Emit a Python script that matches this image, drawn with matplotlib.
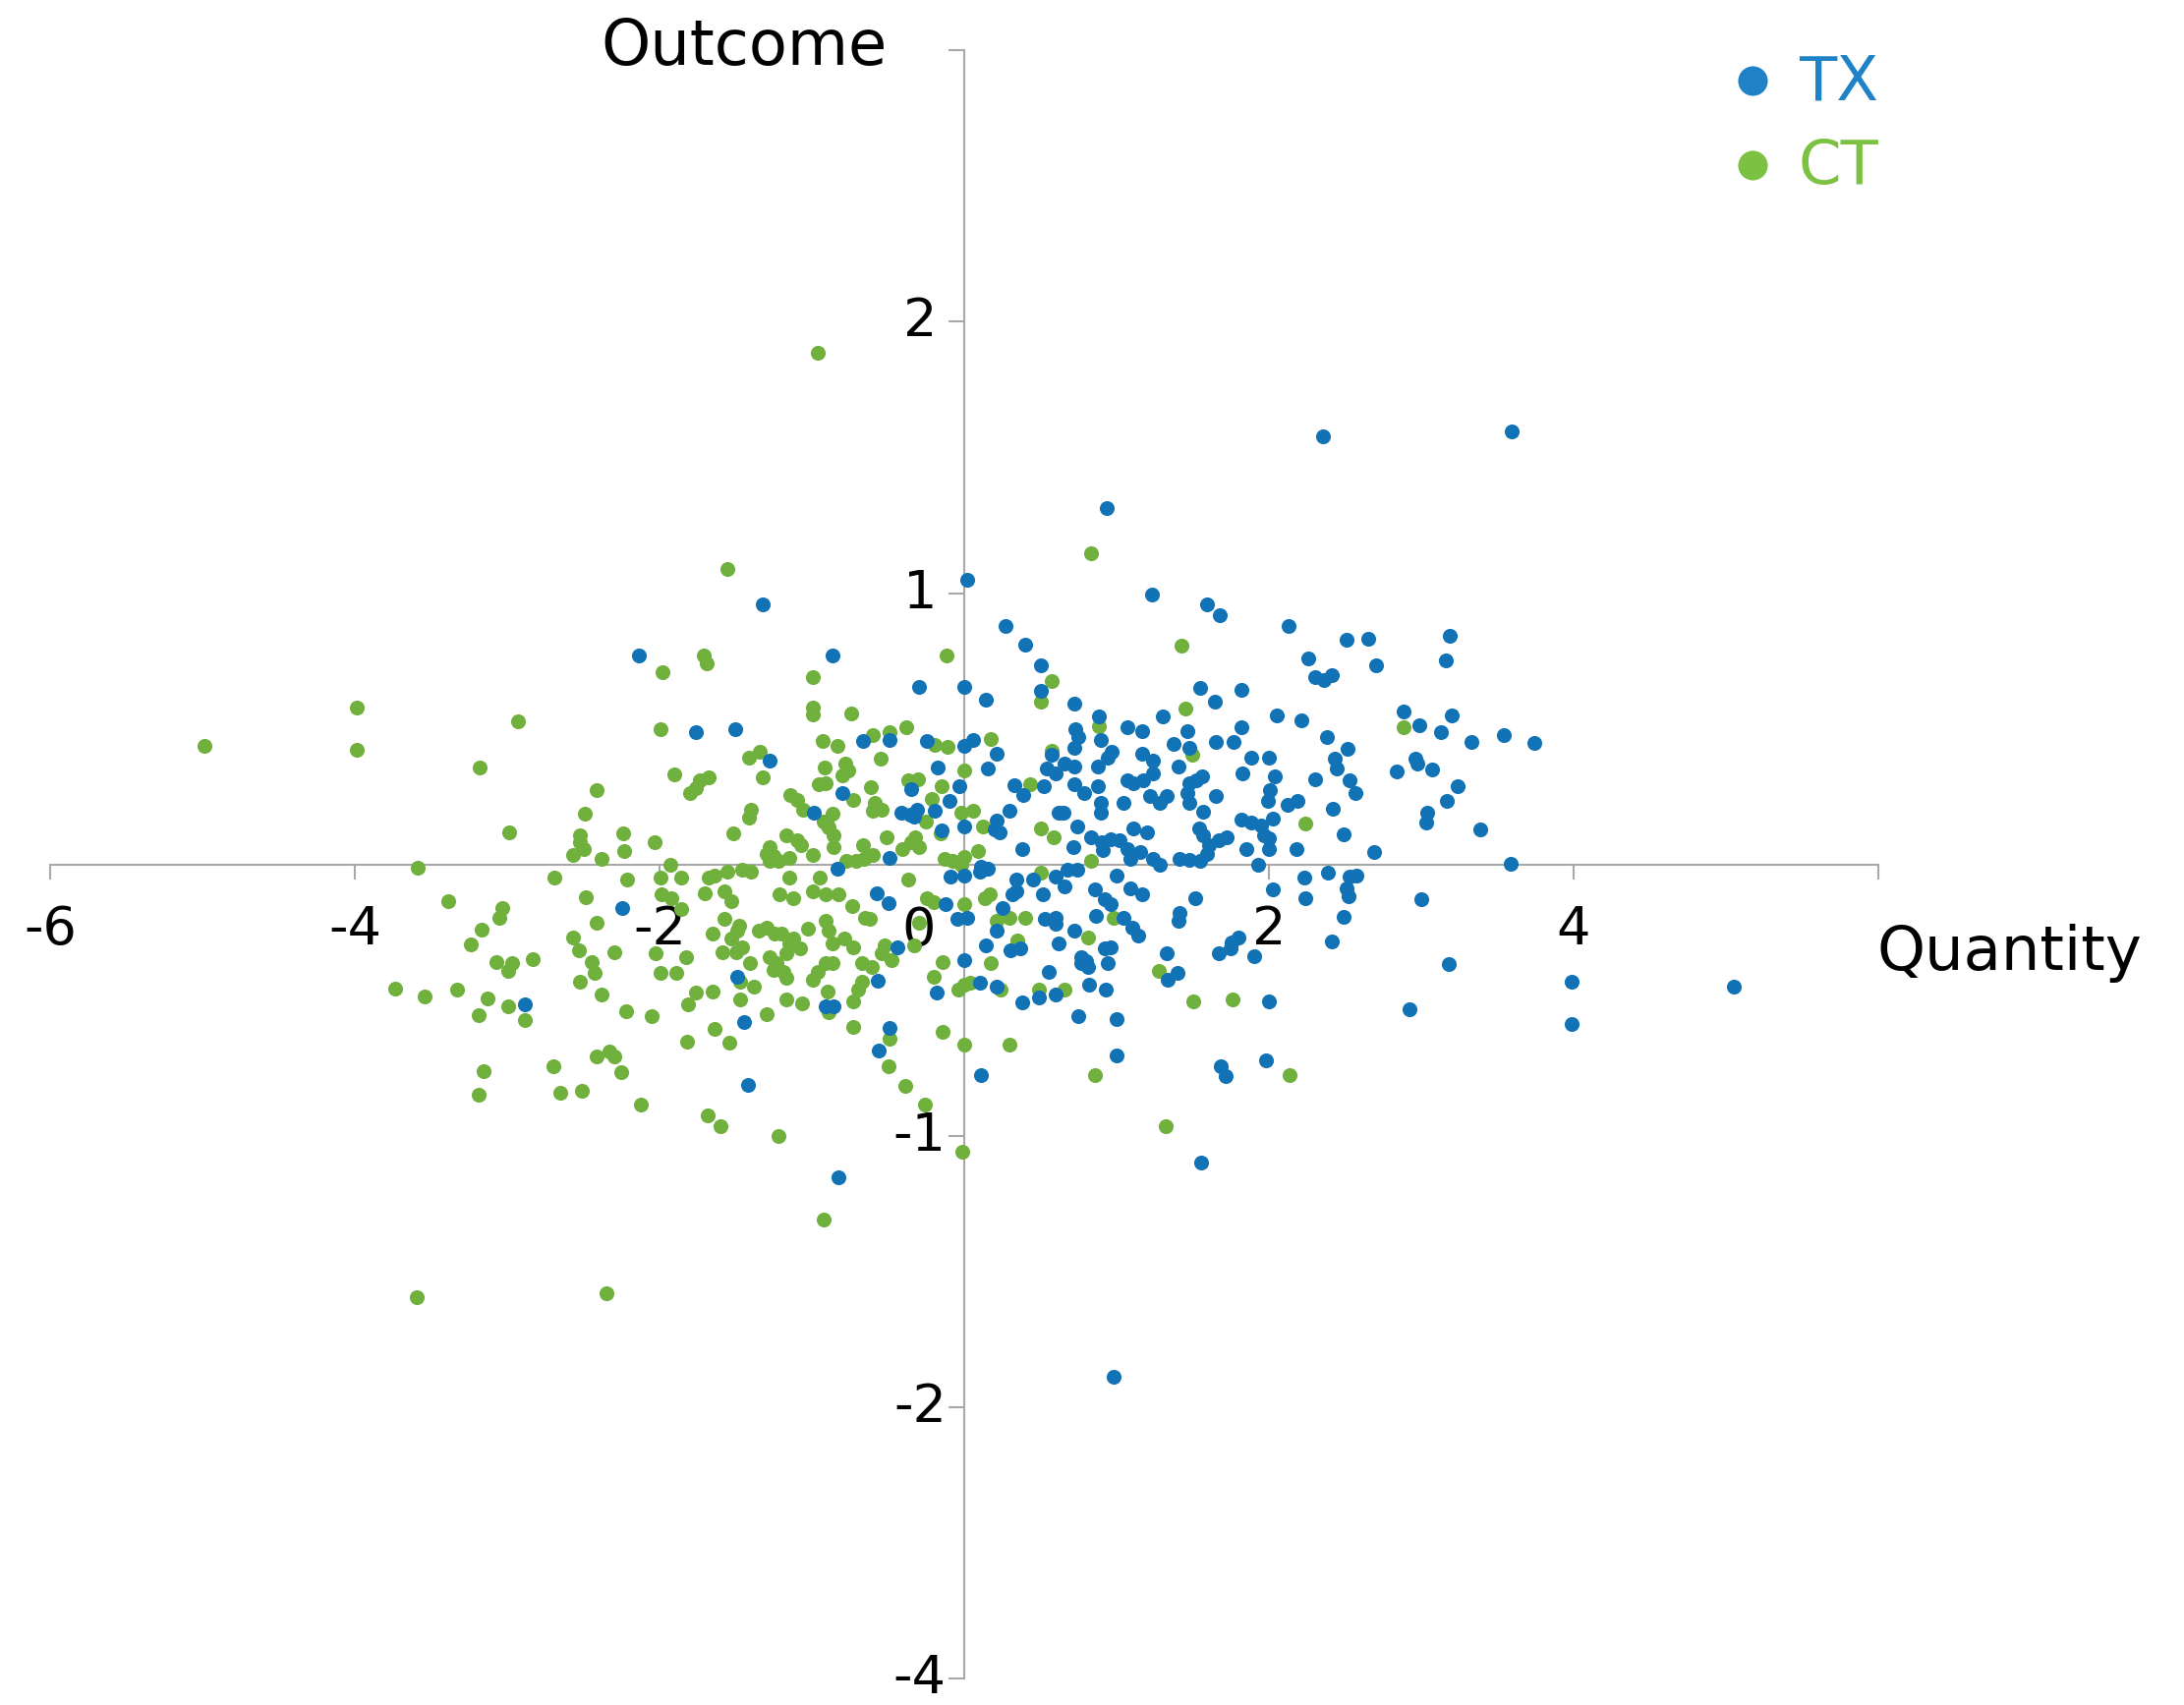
import numpy as np
import matplotlib
matplotlib.use("Agg")
import matplotlib.pyplot as plt

# values: (quantity, outcome)
tx = [
    (-1.32, 0.958), (0.02, 1.05), (-2.135, 0.77), (-0.866, 0.77), (0.27, 0.879), (0.40, 0.81),
    (0.50, 0.734), (0.50, 0.64), (0.725, 0.592), (-0.30, 0.656), (0.0, 0.656), (0.144, 0.607),
    (-1.76, 0.489), (-1.505, 0.499), (-0.663, 0.456), (-0.49, 0.457), (-0.243, 0.456), (0.0, 0.438),
    (0.06, 0.457), (0.21, 0.408), (-1.28, 0.384), (-0.172, 0.357), (0.155, 0.353), (0.574, 0.406),
    (0.54, 0.353), (0.60, 0.335), (0.66, 0.37), (0.72, 0.36), (0.72, 0.43), (0.75, 0.468),
    (0.73, 0.50), (0.886, 0.547), (0.897, 0.459), (0.875, 0.36), (0.94, 0.395), (0.97, 0.417),
    (-0.80, 0.263), (-0.35, 0.278), (-0.03, 0.29), (-0.985, 0.19), (-0.415, 0.19), (-0.355, 0.184),
    (-0.31, 0.20), (-0.33, 0.178), (-0.196, 0.197), (-0.097, 0.233), (0.0, 0.139), (-0.146, 0.127),
    (0.21, 0.16), (0.23, 0.118), (0.20, 0.13), (0.295, 0.199), (0.327, 0.293), (0.39, 0.257),
    (0.52, 0.29), (0.725, 0.297), (0.79, 0.263), (0.875, 0.287), (0.897, 0.227), (0.897, 0.19),
    (0.62, 0.19), (0.65, 0.19), (0.74, 0.14), (0.83, 0.10), (0.90, 0.082), (0.96, 0.094),
    (1.02, 0.091), (0.714, 0.064), (0.38, 0.055), (0.91, 0.052), (-0.49, 0.025), (-0.834, -0.017),
    (-0.09, -0.045), (0.0, -0.04), (0.11, -0.008), (0.155, -0.014), (0.10, -0.026), (0.60, -0.045),
    (0.68, -0.02), (0.74, -0.02), (1.0, -0.04), (0.34, -0.055), (0.45, -0.055),
    (1.23, 0.994), (1.596, 0.958), (1.68, 0.92), (2.127, 0.877), (2.51, 0.827), (2.654, 0.833),
    (3.19, 0.843), (3.16, 0.752), (2.70, 0.734), (2.256, 0.758), (2.30, 0.69), (2.36, 0.68),
    (2.413, 0.698), (1.548, 0.652), (1.82, 0.643), (1.643, 0.599), (1.30, 0.547), (2.05, 0.55),
    (2.215, 0.531), (2.886, 0.565), (2.99, 0.514), (3.20, 0.55), (3.13, 0.489), (3.33, 0.453),
    (3.54, 0.477), (3.74, 0.448), (1.07, 0.505), (1.17, 0.49), (1.467, 0.493), (1.377, 0.444),
    (1.477, 0.43), (1.65, 0.45), (1.768, 0.45), (1.817, 0.505), (2.38, 0.471), (2.516, 0.426),
    (2.435, 0.39), (2.445, 0.354), (1.886, 0.393), (2.0, 0.393), (1.826, 0.336), (2.037, 0.324),
    (2.005, 0.275), (1.994, 0.233), (2.84, 0.342), (2.974, 0.372), (2.96, 0.39), (3.07, 0.351),
    (2.30, 0.315), (2.53, 0.311), (2.57, 0.263), (3.24, 0.287), (3.17, 0.233), (3.04, 0.19),
    (3.03, 0.154), (3.39, 0.13), (3.59, 0.004), (2.69, 0.046), (2.42, 0.205), (2.49, 0.112),
    (2.12, 0.221), (2.19, 0.233), (2.18, 0.055), (2.026, 0.169), (1.82, 0.167), (1.886, 0.155),
    (1.95, 0.143), (1.97, 0.107), (2.0, 0.095), (1.854, 0.055), (2.0, 0.055), (1.93, 0.0),
    (1.65, 0.252), (1.57, 0.195), (1.48, 0.227), (1.467, 0.263), (1.52, 0.311), (1.563, 0.323),
    (1.477, 0.30), (1.54, 0.131), (1.57, 0.107), (1.607, 0.07), (1.67, 0.088), (1.725, 0.10),
    (1.413, 0.022), (1.477, 0.016), (1.55, 0.012), (1.596, 0.04), (1.408, 0.36), (1.166, 0.408),
    (1.24, 0.384), (1.24, 0.336), (1.176, 0.311), (1.11, 0.30), (1.07, 0.311), (1.22, 0.252),
    (1.284, 0.227), (1.327, 0.252), (1.047, 0.227), (1.11, 0.131), (1.198, 0.119), (1.07, 0.058),
    (1.155, 0.046), (1.24, 0.022), (1.284, -0.002), (1.09, 0.022), (2.23, -0.05), (2.387, -0.03),
    (2.53, -0.045), (2.575, -0.04),
    (-2.243, -0.16), (-2.884, -0.516),
    (-0.576, -0.105), (-0.494, -0.141), (-0.125, -0.147), (-0.045, -0.202), (0.02, -0.196),
    (0.25, -0.16), (0.34, -0.10), (0.316, -0.111), (0.21, -0.244), (0.516, -0.111), (0.66, -0.08),
    (0.855, -0.093), (0.92, -0.129), (0.96, -0.147), (0.53, -0.202), (0.60, -0.196), (0.60, -0.22),
    (0.62, -0.292), (0.725, -0.244), (0.864, -0.19), (0.77, -0.34), (0.80, -0.358), (0.92, -0.31),
    (0.96, -0.304), (0.94, -0.365), (0.81, -0.377), (0.77, -0.365), (0.553, -0.395), (0.144, -0.298),
    (0.305, -0.316), (0.37, -0.31), (0.0, -0.353), (-0.437, -0.304), (-0.565, -0.428), (0.10, -0.437),
    (0.21, -0.449), (-0.178, -0.471), (0.49, -0.492), (0.60, -0.48), (0.38, -0.51), (0.82, -0.443),
    (0.93, -0.461), (0.746, -0.558), (1.0, -0.57), (1.0, -0.703), (0.11, -0.775), (-0.49, -0.604),
    (-0.56, -0.687), (-0.824, -1.154), (-0.91, -0.522), (-0.856, -0.522), (-1.49, -0.413),
    (-1.447, -0.582), (-1.42, -0.814),
    (1.09, -0.087), (1.166, -0.111), (1.516, -0.123), (1.413, -0.178), (1.408, -0.208), (1.047, -0.196),
    (1.10, -0.232), (1.144, -0.262), (2.026, -0.09), (2.24, -0.126), (2.51, -0.087), (2.52, -0.117),
    (2.49, -0.193), (2.413, -0.283), (3.0, -0.129), (1.67, -0.328), (1.746, -0.31), (1.80, -0.268),
    (1.757, -0.286), (1.903, -0.338), (1.33, -0.328), (1.338, -0.425), (1.40, -0.401), (1.998, -0.504),
    (3.18, -0.367), (3.99, -0.431), (3.99, -0.588), (2.925, -0.534), (1.983, -0.721), (1.682, -0.745),
    (1.714, -0.781), (1.553, -1.098),
    (5.05, -0.45), (2.356, 1.579), (3.593, 1.595), (0.935, 1.313), (0.98, -1.887),
]

ct = [
    (-4.985, 0.438), (-3.99, 0.577), (-3.99, 0.422), (-2.93, 0.526), (-3.18, 0.357), (-2.41, 0.273),
    (-2.49, 0.187), (-2.99, 0.12), (-2.52, 0.109), (-2.52, 0.082), (-2.50, 0.055), (-2.57, 0.034),
    (-2.38, 0.022), (-2.24, 0.116), (-2.23, 0.05), (-3.59, -0.012), (-2.69, -0.048), (-2.21, -0.057),
    (-1.555, 1.09), (0.83, 1.145), (-1.71, 0.77), (-1.69, 0.74), (-1.98, 0.71), (-0.114, 0.77),
    (0.574, 0.677), (0.50, 0.60), (-0.996, 0.692), (-0.996, 0.577), (-0.996, 0.553), (-0.744, 0.556),
    (-1.995, 0.499), (-0.383, 0.505), (-0.49, 0.487), (-0.598, 0.475), (-0.196, 0.44), (-0.11, 0.432),
    (0.176, 0.462), (-0.93, 0.455), (-0.83, 0.438), (-1.41, 0.393), (-1.34, 0.414), (-0.55, 0.39),
    (-0.916, 0.357), (-0.78, 0.37), (-0.76, 0.345), (-0.80, 0.33), (0.0, 0.348), (0.574, 0.42),
    (0.886, 0.51), (-1.903, 0.332), (-1.737, 0.31), (-1.68, 0.32), (-1.80, 0.263), (-1.76, 0.28),
    (-1.32, 0.32), (-0.957, 0.296), (-0.91, 0.30), (-0.615, 0.285), (-0.37, 0.31), (-0.303, 0.314),
    (-0.146, 0.287), (-1.14, 0.257), (-1.10, 0.236), (-1.06, 0.203), (-0.727, 0.237), (-0.587, 0.227),
    (-0.545, 0.203), (-0.60, 0.197), (-0.866, 0.187), (-1.40, 0.203), (-1.41, 0.173), (-0.254, 0.157),
    (-0.21, 0.24), (-0.017, 0.19), (0.058, 0.197), (-0.157, 0.113), (0.12, 0.14), (0.435, 0.296),
    (0.50, 0.131), (0.585, 0.101), (0.83, 0.012), (-1.516, 0.116), (-2.03, 0.082), (-1.93, -0.003),
    (-1.275, 0.064), (-1.30, 0.04), (-1.25, 0.03), (-1.22, 0.012), (-1.275, 0.012), (-1.15, 0.025),
    (-1.17, 0.106), (-1.10, 0.088), (-1.07, 0.072), (-0.996, 0.034), (-0.888, 0.136), (-0.86, 0.106),
    (-0.86, 0.064), (-0.90, 0.142), (-0.92, 0.157), (-0.663, 0.07), (-0.60, 0.034), (-0.775, 0.015),
    (-0.71, 0.015), (-0.66, 0.02), (-0.51, 0.10), (-0.405, 0.058), (-0.35, 0.082), (-0.32, 0.10),
    (-0.30, 0.064), (-0.13, 0.02), (-0.08, 0.014), (0.0, 0.026), (-0.02, -0.003), (0.09, 0.05),
    (0.5, -0.032), (-1.995, -0.05), (-1.856, -0.05), (-1.68, -0.05), (-1.64, -0.04), (-1.555, -0.027),
    (-1.46, -0.02), (-1.40, -0.026), (-1.15, -0.05), (-0.95, -0.05), (-0.37, -0.055),
    (1.424, 0.807), (1.45, 0.574), (2.886, 0.505), (1.494, 0.406), (2.24, 0.152),
    (-3.387, -0.135), (-3.03, -0.16), (-3.05, -0.196), (-3.17, -0.242), (-3.24, -0.295), (-2.484, -0.121),
    (-2.415, -0.214), (-2.565, -0.268), (-2.526, -0.316), (-2.297, -0.322), (-2.447, -0.359),
    (-2.426, -0.399), (-2.523, -0.434), (-2.383, -0.479), (-2.22, -0.54), (-3.07, -0.359), (-2.97, -0.365),
    (-2.995, -0.391), (-2.834, -0.35), (-3.737, -0.458), (-3.54, -0.486), (-3.329, -0.461), (-3.13, -0.495),
    (-3.19, -0.555), (-2.991, -0.522), (-2.884, -0.572), (-2.70, -0.743), (-2.415, -0.709), (-2.33, -0.691),
    (-2.297, -0.709), (-2.253, -0.766), (-3.157, -0.761), (-3.19, -0.85), (-2.65, -0.842), (-2.512, -0.834),
    (-1.985, -0.111), (-1.92, -0.123), (-1.856, -0.165), (-1.705, -0.105), (-1.575, -0.099), (-1.53, -0.135),
    (-1.21, -0.111), (-1.125, -0.123), (-0.996, -0.099), (-0.91, -0.111), (-0.823, -0.111), (-0.737, -0.153),
    (-0.243, -0.123), (-0.20, -0.14), (0.0, -0.147), (0.134, -0.123), (0.166, -0.111), (0.21, -0.208),
    (0.295, -0.196), (0.40, -0.196), (0.35, -0.28), (0.81, -0.268), (0.98, -0.196), (0.176, -0.362),
    (-0.144, -0.359), (-0.297, -0.214), (-0.33, -0.298), (-0.52, -0.298), (-0.48, -0.353), (-0.545, -0.328),
    (-0.608, -0.377), (-0.673, -0.365), (-0.652, -0.196), (-0.62, -0.202), (-0.20, -0.413), (0.0, -0.443),
    (-0.04, -0.461), (0.04, -0.437), (0.24, -0.461), (0.49, -0.461), (0.66, -0.461), (0.295, -0.664),
    (0.0, -0.664), (0.86, -0.775), (-0.14, -0.616), (-0.49, -0.642), (-0.495, -0.743), (-0.39, -0.815),
    (-0.26, -0.884), (-0.01, -1.059), (-0.92, -1.31), (-0.727, -0.598), (-0.888, -0.546), (-0.90, -0.467),
    (-0.727, -0.504), (-0.695, -0.461), (-0.673, -0.431), (-0.996, -0.425), (-0.963, -0.395), (-0.91, -0.365),
    (-0.866, -0.365), (-0.866, -0.292), (-0.91, -0.208), (-0.888, -0.244), (-0.79, -0.274), (-0.727, -0.304),
    (-1.028, -0.238), (-1.08, -0.31), (-1.146, -0.292), (-1.168, -0.328), (-1.125, -0.274), (-1.275, -0.34),
    (-1.23, -0.365), (-1.189, -0.395), (-1.168, -0.419), (-1.254, -0.389), (-1.35, -0.244), (-1.296, -0.232),
    (-1.243, -0.256), (-1.20, -0.256), (-1.48, -0.226), (-1.49, -0.244), (-1.53, -0.274), (-1.586, -0.322),
    (-1.50, -0.322), (-1.457, -0.304), (-1.575, -0.202), (-1.65, -0.256), (-1.823, -0.34), (-2.028, -0.328),
    (-1.995, -0.401), (-1.888, -0.401), (-1.405, -0.365), (-1.468, -0.431), (-1.383, -0.449), (-1.468, -0.497),
    (-1.76, -0.473), (-1.65, -0.467), (-1.813, -0.515), (-1.168, -0.497), (-1.065, -0.513), (-1.296, -0.552),
    (-1.64, -0.606), (-1.545, -0.658), (-1.817, -0.652), (-2.05, -0.56), (-2.125, -0.884), (-1.684, -0.926),
    (-1.598, -0.966), (-1.222, -1.002),
    (1.28, -0.391), (1.503, -0.504), (1.761, -0.498), (2.133, -0.778), (1.323, -0.966),
    (-0.962, 1.887), (-3.593, -1.595), (-2.346, -1.579),
]

x_ticks = [-6, -4, -2, 2, 4, 6]
x_tick_labels = ["-6", "-4", "-2", "2", "4", ""]
y_ticks = [3, 2, 1, -1, -2, -3]
y_tick_labels = ["", "2", "1", "-1", "-2", "-4"]

series = ["TX", "CT"]
dot_colors = {"TX": "#1172b5", "CT": "#70b03d"}
legend_colors = {"TX": "#1f82c6", "CT": "#7bc142"}
axis_grey = "#a8a8a8"

tx = np.array(tx)
ct = np.array(ct)

fig = plt.figure(figsize=(22.22, 17.35), dpi=100)
ax = fig.add_axes([51 / 2222, 27 / 1735, 1860 / 2222, 1656.7 / 1735])
ax.set_xlim(-6, 6)
ax.set_ylim(-3, 3)

for side in ["top", "right"]:
    ax.spines[side].set_visible(False)
for side in ["left", "bottom"]:
    ax.spines[side].set_position(("data", 0))
    ax.spines[side].set_color(axis_grey)
    ax.spines[side].set_linewidth(1.5)

ax.set_xticks(x_ticks, x_tick_labels)
ax.set_yticks(y_ticks, y_tick_labels, ha="center", va="center")
ax.tick_params(axis="x", length=11, width=1.5, color=axis_grey, labelsize=39, pad=18)
ax.tick_params(axis="y", length=11.5, width=1.5, color=axis_grey, labelsize=39, pad=21)
ax.annotate("0", xy=(0, 0), xytext=(-46, -41), textcoords="offset pixels",
            ha="center", va="top", fontsize=39)

ax.scatter(ct[:, 0], ct[:, 1], s=118, color=dot_colors["CT"], linewidths=0, zorder=3)
ax.scatter(tx[:, 0], tx[:, 1], s=118, color=dot_colors["TX"], linewidths=0, zorder=4)

ax.text(-0.503, 2.947, "Outcome", ha="right", va="baseline", fontsize=46)
ax.text(5.99, -0.39, "Quantity", ha="left", va="baseline", fontsize=45, clip_on=False)

# legend drawn by hand, top right
for name, dot_y, text_y in zip(series, [2.889, 2.577], [2.817, 2.509]):
    ax.scatter([5.174], [dot_y], s=470, color=legend_colors[name], linewidths=0, clip_on=False)
    ax.text(5.477, text_y, name, color=legend_colors[name], fontsize=45, va="baseline", clip_on=False)

fig.savefig("out.png", dpi=100)
